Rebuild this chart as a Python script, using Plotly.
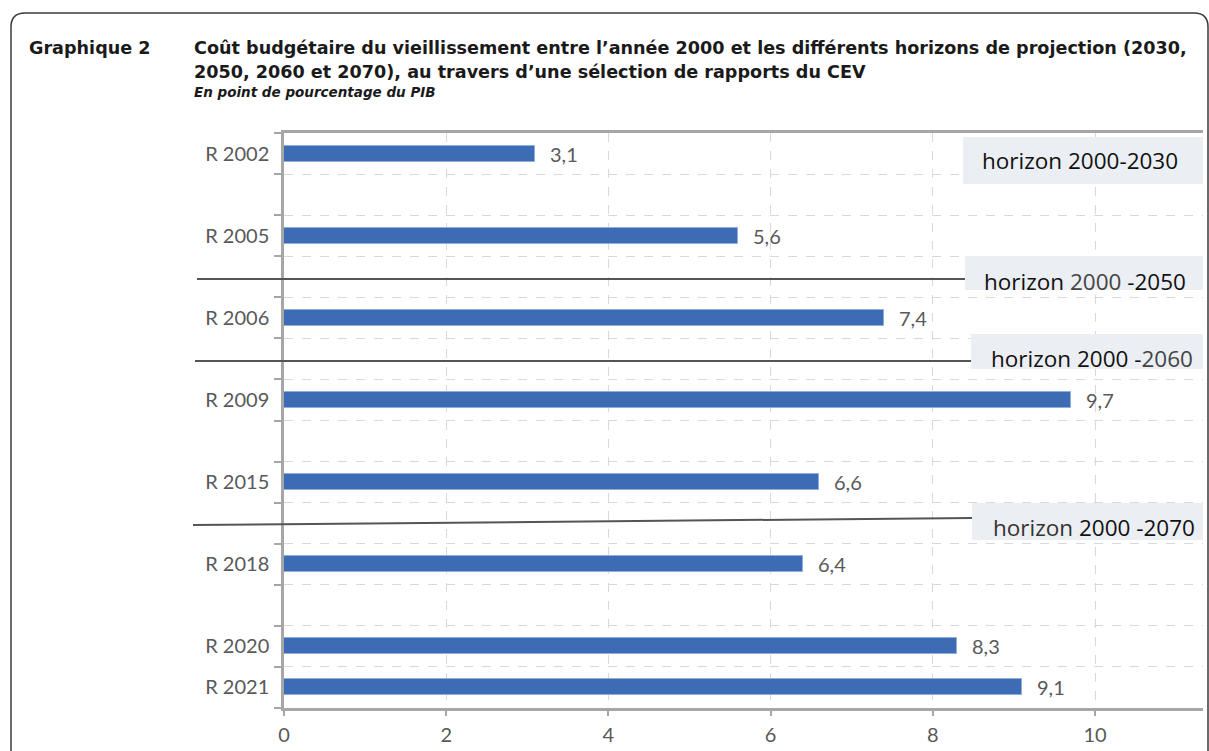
import plotly.graph_objects as go

# ---------------- data ----------------
reports = ["R 2002", "R 2005", "R 2006", "R 2009", "R 2015", "R 2018", "R 2020", "R 2021"]
row_slots = [0, 2, 4, 6, 8, 10, 12, 13]
values = [3.1, 5.6, 7.4, 9.7, 6.6, 6.4, 8.3, 9.1]
x_ticks = [0, 2, 4, 6, 8, 10]
horizon_labels = [
    "horizon 2000-2030",
    "horizon <span style='color:#444444'>2000</span> -2050",
    "horizon 2000 -<span style='color:#444444'>2060</span>",
    "<span style='color:#333333'>horizon</span> 2000 -2070",
]

title_tag = "Graphique 2"
title_l1 = "Coût budgétaire du vieillissement entre l’année 2000 et les différents horizons de projection (2030,"
title_l2 = "2050, 2060 et 2070), au travers d’une sélection de rapports du CEV"
subtitle = "En point de pourcentage du PIB"

# ---------------- geometry helpers ----------------
W, H = 1209, 751
L, R, T, B = 284, 1203, 133, 708


def px(x):
    return (x - L) / (R - L)


def py(y):
    return (B - y) / (B - T)


GRAY_TXT = "#595959"
AXIS = "#A6A6A6"
GRID = "#D9D9D9"
BAR = "#3D6CB4"
TITLE_FONT = "DejaVu Sans"

fig = go.Figure()
fig.add_trace(go.Bar(
    x=values, y=row_slots, orientation="h", width=0.39,
    marker=dict(color=BAR, line=dict(color="#8EAEDC", width=1)),
    hoverinfo="skip", showlegend=False,
))

annotations = []
for v, s in zip(values, row_slots):
    annotations.append(dict(
        x=v, y=s, xref="x", yref="y", text=f"{v:.1f}".replace(".", ","),
        showarrow=False, xanchor="left", yanchor="middle", xshift=13,
        font=dict(family="Lato", size=20, color=GRAY_TXT),
    ))

# titles
annotations += [
    dict(x=px(27), y=py(48), xref="paper", yref="paper", text=f"<b>{title_tag}</b>",
         showarrow=False, xanchor="left", yanchor="middle",
         font=dict(family=TITLE_FONT, size=17.6, color="#1a1a1a")),
    dict(x=px(192), y=py(48), xref="paper", yref="paper", text=f"<b>{title_l1}</b>",
         showarrow=False, xanchor="left", yanchor="middle",
         font=dict(family=TITLE_FONT, size=17.6, color="#1a1a1a")),
    dict(x=px(192), y=py(72), xref="paper", yref="paper", text=f"<b>{title_l2}</b>",
         showarrow=False, xanchor="left", yanchor="middle",
         font=dict(family=TITLE_FONT, size=17.6, color="#1a1a1a")),
    dict(x=px(192), y=py(92), xref="paper", yref="paper", text=f"<b><i>{subtitle}</i></b>",
         showarrow=False, xanchor="left", yanchor="middle",
         font=dict(family=TITLE_FONT, size=13.5, color="#1a1a1a")),
]

shapes = []
# outer rounded frame
x0, y0, x1, y1, r = 11, 13, 1208, 752, 14
path = (f"M {px(x0)},{py(y1)} L {px(x0)},{py(y0 + r)} "
        f"Q {px(x0)},{py(y0)} {px(x0 + r)},{py(y0)} "
        f"L {px(x1 - r)},{py(y0)} Q {px(x1)},{py(y0)} {px(x1)},{py(y0 + r)} "
        f"L {px(x1)},{py(y1)}")
shapes.append(dict(type="path", path=path, xref="paper", yref="paper",
                   line=dict(color="#3a3a3a", width=1.5)))

# horizon boxes (pixel geometry) and labels
boxes = [(963, 137, 1203, 184, 1080, 160),
         (965, 256, 1203, 290, 1085, 281),
         (971, 334, 1203, 369, 1092, 358),
         (972, 503, 1203, 540, 1094, 527)]
for (bx0, by0, bx1, by1, tx, ty), lab in zip(boxes, horizon_labels):
    shapes.append(dict(type="rect", xref="paper", yref="paper",
                       x0=px(bx0), x1=px(bx1), y0=py(by1), y1=py(by0),
                       fillcolor="#EBEEF2", line=dict(width=0), layer="above"))
    annotations.append(dict(x=px(tx), y=py(ty), xref="paper", yref="paper", text=lab,
                            showarrow=False, xanchor="center", yanchor="middle",
                            font=dict(family="Open Sans", size=22.5, color="#111111")))

# separator lines
for (ax, ay, bx, by) in [(197, 279, 965, 279), (195, 361, 971, 361), (193, 525, 972, 518)]:
    shapes.append(dict(type="line", xref="paper", yref="paper",
                       x0=px(ax), y0=py(ay), x1=px(bx), y1=py(by),
                       line=dict(color="#555555", width=2), layer="above"))

fig.update_layout(
    width=W, height=H,
    margin=dict(l=L, r=W - R, t=T, b=H - B, autoexpand=False),
    paper_bgcolor="white", plot_bgcolor="white",
    bargap=0,
    xaxis=dict(
        range=[0, (R - L) / 81.1], tickvals=x_ticks, ticktext=[str(t) for t in x_ticks],
        showgrid=True, gridcolor=GRID, griddash="dash", gridwidth=1,
        showline=True, linecolor=AXIS, linewidth=2.5, mirror=True,
        ticks="outside", ticklen=5, tickcolor=AXIS, tickwidth=2,
        ticklabelstandoff=2, automargin=False,
        zeroline=False,
        tickfont=dict(family="Lato", size=20, color=GRAY_TXT),
    ),
    yaxis=dict(
        range=[13.5, -0.5], tickvals=row_slots, ticktext=reports,
        showgrid=False, zeroline=False, automargin=False,
        showline=True, linecolor=AXIS, linewidth=2.5,
        ticks="outside", ticklen=8, tickcolor="rgba(0,0,0,0)",
        tickfont=dict(family="Lato", size=20, color=GRAY_TXT),
        minor=dict(tickmode="array", tickvals=[i - 0.5 for i in range(15)],
                   ticks="outside", ticklen=7, tickcolor=AXIS, tickwidth=2,
                   showgrid=True, gridcolor=GRID, griddash="dash", gridwidth=1),
    ),
    annotations=annotations,
    shapes=shapes,
)

fig.write_html("out.html")
